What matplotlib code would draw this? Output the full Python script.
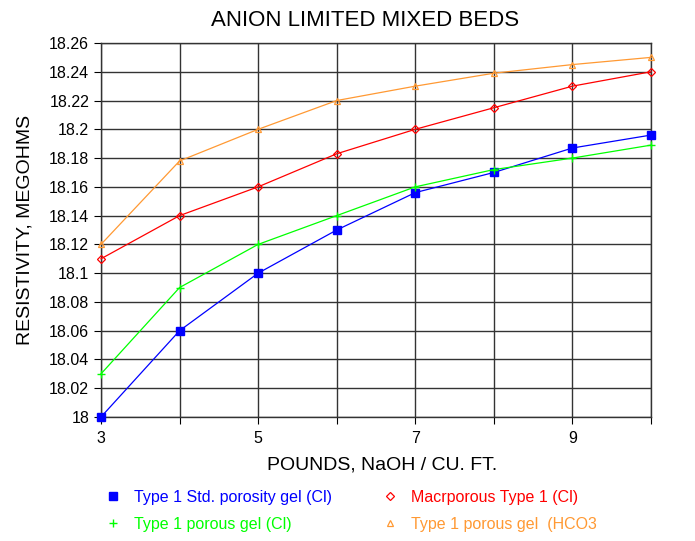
import matplotlib
matplotlib.use("Agg")
import matplotlib.pyplot as plt
from matplotlib.ticker import FixedLocator, FuncFormatter

plt.rcParams['font.family'] = ['Liberation Sans', 'DejaVu Sans']

pounds = [3, 4, 5, 6, 7, 8, 9, 10]
std_gel_cl = [18.00, 18.06, 18.10, 18.13, 18.156, 18.17, 18.187, 18.196]
porous_gel_cl = [18.03, 18.09, 18.12, 18.14, 18.16, 18.172, 18.18, 18.189]
macro_cl = [18.11, 18.14, 18.16, 18.183, 18.20, 18.215, 18.23, 18.24]
porous_gel_hco3 = [18.12, 18.178, 18.20, 18.22, 18.23, 18.239, 18.245, 18.25]

labels = ["Type 1 Std. porosity gel (Cl)", "Type 1 porous gel (Cl)",
          "Macrporous Type 1 (Cl)", "Type 1 porous gel  (HCO3"]
colors = ["#0000ff", "#00ff00", "#ff0000", "#ff9933"]
yticks = [18.00, 18.02, 18.04, 18.06, 18.08, 18.10, 18.12, 18.14, 18.16,
          18.18, 18.20, 18.22, 18.24, 18.26]
xticks_major = [3, 5, 7, 9]

fig = plt.figure(figsize=(6.95, 5.41), dpi=100)
ax = fig.add_axes([101/695, 1 - 417/541, 550/695, 374/541])

series = [std_gel_cl, porous_gel_cl, macro_cl, porous_gel_hco3]
styles = [dict(marker='s', ms=5.5, mfc=colors[0], mec=colors[0]),
          dict(marker='+', ms=6, mfc=colors[1], mec=colors[1], mew=1),
          dict(marker='D', ms=4, mfc='none', mec=colors[2], mew=0.9),
          dict(marker='^', ms=5, mfc='none', mec=colors[3], mew=0.9)]
handles = []
for ys, c, st, lab in zip(series, colors, styles, labels):
    ax.plot(pounds, ys, color=c, lw=0.9, clip_on=False, zorder=3, **st)
    h, = ax.plot([], [], ls='none', label=lab, **st)
    handles.append(h)

ax.set_xlim(3, 10)
ax.set_ylim(18.0, 18.26)
ax.xaxis.set_major_locator(FixedLocator(xticks_major))
ax.xaxis.set_minor_locator(FixedLocator(pounds))
ax.yaxis.set_major_locator(FixedLocator(yticks))
ax.yaxis.set_major_formatter(FuncFormatter(lambda v, p: ('%.2f' % v).rstrip('0').rstrip('.')))
ax.grid(True, which='both', axis='x', color='#333333', lw=1.0)
ax.grid(True, which='major', axis='y', color='#333333', lw=1.0)
ax.tick_params(axis='both', which='both', direction='out', length=5, width=0.8, labelsize=11.5)
ax.tick_params(axis='x', which='minor', length=5)
ax.tick_params(axis='x', which='major', pad=5)
for s in ax.spines.values():
    s.set_linewidth(1.0)
    s.set_color('#333333')

ax.set_title("ANION LIMITED MIXED BEDS", fontsize=16, pad=12, x=(365 - 101) / 550)
ax.set_xlabel("POUNDS, NaOH / CU. FT.", fontsize=14, labelpad=8)
ax.xaxis.set_label_coords((382 - 101) / 550, -0.105)
ax.set_ylabel("RESISTIVITY, MEGOHMS", fontsize=14, labelpad=11)

leg = fig.legend(handles=handles, ncol=2, loc='upper left', bbox_to_anchor=(103/695, 1 - 490/541),
                 frameon=False, fontsize=11.5, handlelength=1.2, handletextpad=0.75,
                 columnspacing=3.0, labelspacing=0.75, borderpad=0, borderaxespad=0,
                 labelcolor=colors)
fig.savefig("out.png", dpi=100)
